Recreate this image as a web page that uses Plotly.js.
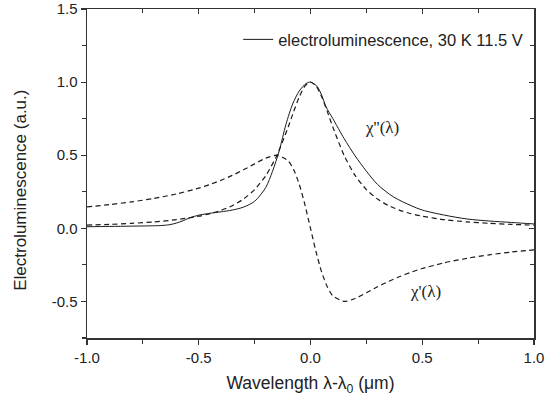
<!DOCTYPE html>
<html>
<head>
<meta charset="utf-8">
<script src="https://cdn.plot.ly/plotly-3.0.1.min.js"></script>
<style>html,body{margin:0;padding:0;background:#fff;}#chart{width:545px;height:402px;}</style>
</head>
<body>
<div id="chart"></div>
<script>
// Electroluminescence (solid line)
var elX = [-1.0, -0.9, -0.8, -0.72, -0.67, -0.63, -0.6, -0.57, -0.54, -0.5, -0.45, -0.4, -0.35, -0.3, -0.25, -0.2, -0.17, -0.14, -0.11, -0.08, -0.05, -0.02, 0.0, 0.03, 0.05, 0.07, 0.1, 0.15, 0.2, 0.25, 0.3, 0.37, 0.45, 0.5, 0.6, 0.7, 0.8, 0.9, 1.0];
var elY = [0.011, 0.013, 0.015, 0.017, 0.019, 0.025, 0.036, 0.052, 0.072, 0.09, 0.103, 0.113, 0.125, 0.145, 0.185, 0.28, 0.39, 0.53, 0.71, 0.85, 0.94, 0.99, 1.0, 0.97, 0.91, 0.83, 0.75, 0.615, 0.495, 0.391, 0.30, 0.216, 0.155, 0.125, 0.09, 0.064, 0.05, 0.04, 0.03];

// chi'' and chi' dashed curves
var chiX = [-1.0, -0.9, -0.8, -0.7, -0.6, -0.5, -0.45, -0.4, -0.35, -0.3, -0.25, -0.2, -0.15, -0.1, -0.075, -0.05, -0.025, 0.0, 0.025, 0.05, 0.075, 0.1, 0.15, 0.2, 0.25, 0.3, 0.35, 0.4, 0.45, 0.5, 0.6, 0.7, 0.8, 0.9, 1.0];
var chi2Y = [0.022, 0.027, 0.034, 0.044, 0.059, 0.083, 0.100, 0.123, 0.155, 0.200, 0.265, 0.360, 0.500, 0.692, 0.800, 0.900, 0.973, 1.0, 0.973, 0.900, 0.800, 0.692, 0.500, 0.360, 0.265, 0.200, 0.155, 0.123, 0.100, 0.083, 0.059, 0.044, 0.034, 0.027, 0.022];
var chi1Y = [0.147, 0.162, 0.181, 0.205, 0.235, 0.275, 0.300, 0.329, 0.362, 0.400, 0.441, 0.480, 0.500, 0.462, 0.400, 0.300, 0.162, 0.0, -0.162, -0.300, -0.400, -0.462, -0.500, -0.480, -0.441, -0.400, -0.362, -0.329, -0.300, -0.275, -0.235, -0.205, -0.181, -0.162, -0.147];

var legendText = 'electroluminescence, 30 K 11.5 V';
var xTitle = 'Wavelength λ-λ<sub>0</sub> (μm)';
var yTitle = 'Electroluminescence (a.u.)';
var xTicks = [-1.0, -0.5, 0.0, 0.5, 1.0];
var xTickText = ['-1.0', '-0.5', '0.0', '0.5', '1.0'];
var yTicks = [-0.5, 0.0, 0.5, 1.0, 1.5];
var yTickText = ['-0.5', '0.0', '0.5', '1.0', '1.5'];

var ink = '#1a1a1a';
var axisCol = '#333';
var sans = 'Liberation Sans, Arial, sans-serif';
var serif = 'Liberation Serif, Times New Roman, serif';
var traces = [
  {x: elX, y: elY, type: 'scatter', mode: 'lines', name: legendText,
   line: {color: ink, width: 1, shape: 'spline', smoothing: 0.8}},
  {x: chiX, y: chi2Y, type: 'scatter', mode: 'lines', showlegend: false,
   line: {color: ink, width: 1.2, dash: '5px,3.5px', shape: 'spline', smoothing: 0.6}},
  {x: chiX, y: chi1Y, type: 'scatter', mode: 'lines', showlegend: false,
   line: {color: ink, width: 1.2, dash: '5px,3.5px', shape: 'spline', smoothing: 0.6}}
];

var tickFont = {family: sans, size: 15, color: '#222'};
var minorOut = {dtick: 0.25, ticks: 'outside', ticklen: 4, tickwidth: 1.2, tickcolor: axisCol, showgrid: false};
var minorIn = {dtick: 0.25, ticks: 'inside', ticklen: 4, tickwidth: 1.2, tickcolor: axisCol, showgrid: false};
var layout = {
  width: 545, height: 402,
  margin: {l: 87, r: 11, t: 9, b: 64},
  paper_bgcolor: '#fff', plot_bgcolor: '#fff',
  showlegend: true,
  legend: {x: 0.987, xanchor: 'right', y: 0.96, yanchor: 'top', bgcolor: 'rgba(0,0,0,0)',
           font: {family: sans, size: 16.5, color: '#222'}},
  xaxis: {range: [-1.0, 1.0], tickvals: xTicks, ticktext: xTickText, ticks: 'outside', ticklen: 5,
          tickwidth: 1.2, tickcolor: axisCol, showline: true, linecolor: axisCol, linewidth: 1.5,
          showgrid: false, zeroline: false, tickfont: tickFont, minor: minorOut,
          title: {text: xTitle, font: {family: sans, size: 17.5, color: '#222'}, standoff: 12}},
  yaxis: {range: [-0.75, 1.5], tickvals: yTicks, ticktext: yTickText, ticks: 'outside', ticklen: 5,
          tickwidth: 1.2, tickcolor: axisCol, showline: true, linecolor: axisCol, linewidth: 1.5,
          showgrid: false, zeroline: false, tickfont: tickFont, minor: minorOut},
  xaxis2: {overlaying: 'x', side: 'top', range: [-1.0, 1.0], tickvals: xTicks, showticklabels: false,
           ticks: 'inside', ticklen: 5, tickwidth: 1.2, tickcolor: axisCol, showline: true, linecolor: axisCol,
           linewidth: 1.5, showgrid: false, zeroline: false, minor: minorIn},
  yaxis2: {overlaying: 'y', side: 'right', range: [-0.75, 1.5], tickvals: yTicks, showticklabels: false,
           ticks: 'inside', ticklen: 5, tickwidth: 1.2, tickcolor: axisCol, showline: true, linecolor: axisCol,
           linewidth: 1.5, showgrid: false, zeroline: false, minor: minorIn},
  annotations: [
    {x: 0.322, y: 0.69, xref: 'x', yref: 'y', text: 'χ\'\'(λ)', showarrow: false,
     font: {family: serif, size: 17, color: '#222'}},
    {x: 0.515, y: -0.433, xref: 'x', yref: 'y', text: 'χ\'(λ)', showarrow: false,
     font: {family: serif, size: 17, color: '#222'}},
    {x: -0.148, y: 0.45, xref: 'paper', yref: 'paper', xanchor: 'center', yanchor: 'middle',
     text: yTitle, textangle: -90, showarrow: false,
     font: {family: sans, size: 17, color: '#222'}}
  ]
};

// invisible trace so the mirrored frame axes are created
traces.push({x: [null], y: [null], xaxis: 'x2', yaxis: 'y2', type: 'scatter', mode: 'lines', showlegend: false, hoverinfo: 'skip'});

Plotly.newPlot('chart', traces, layout, {displayModeBar: false, staticPlot: true});
</script>
</body>
</html>
